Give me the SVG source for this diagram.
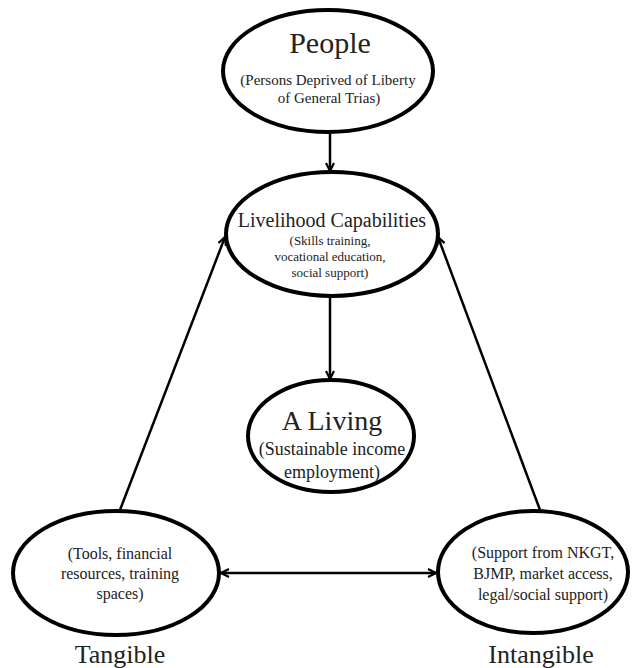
<svg xmlns="http://www.w3.org/2000/svg" width="633" height="668" viewBox="0 0 633 668">
<style>
.node ellipse{fill:#fff;stroke:#000;stroke-width:4}
text{font-family:"Liberation Serif","Times New Roman",serif;fill:#222;text-anchor:middle}
.conn line{stroke:#000;stroke-width:2.5;fill:none}
</style>
<defs>
<marker id="ah" viewBox="0 0 10 10" refX="9" refY="5" markerWidth="10" markerHeight="10" markerUnits="userSpaceOnUse" orient="auto-start-reverse">
<path d="M1,1 L9,5 L1,9" fill="none" stroke="#000" stroke-width="2.2"/>
</marker>
</defs>
<rect width="633" height="668" fill="#fff"/>
<g class="node" id="people">
<ellipse cx="328" cy="71" rx="105" ry="61"/>
<text x="330" y="53" font-size="30">People</text>
<text x="328" y="85" font-size="15">(Persons Deprived of Liberty</text>
<text x="329" y="103" font-size="15">of General Trias)</text>
</g>
<g class="node" id="livelihood">
<ellipse cx="332" cy="234" rx="106" ry="62"/>
<text x="332" y="227" font-size="20">Livelihood Capabilities</text>
<text x="330" y="245" font-size="13">(Skills training,</text>
<text x="330" y="261" font-size="13">vocational education,</text>
<text x="330" y="277" font-size="13">social support)</text>
</g>
<g class="node" id="living">
<ellipse cx="331" cy="436" rx="83" ry="56"/>
<text x="332" y="430" font-size="28">A Living</text>
<text x="332" y="455" font-size="18">(Sustainable income</text>
<text x="332" y="478" font-size="18">employment)</text>
</g>
<g class="node" id="tangible">
<ellipse cx="116" cy="573" rx="103" ry="62"/>
<text x="120" y="559" font-size="16">(Tools, financial</text>
<text x="120" y="579" font-size="16">resources, training</text>
<text x="120" y="599" font-size="16">spaces)</text>
<text x="120" y="663" font-size="26">Tangible</text>
</g>
<g class="node" id="intangible">
<ellipse cx="533" cy="572" rx="95" ry="61"/>
<text x="543" y="558" font-size="16">(Support from NKGT,</text>
<text x="543" y="579" font-size="16">BJMP, market access,</text>
<text x="543" y="600" font-size="16">legal/social support)</text>
<text x="541" y="663" font-size="26">Intangible</text>
</g>
<g class="conn" id="connectors">
<line x1="330" y1="133" x2="330" y2="171" marker-end="url(#ah)"/>
<line x1="330" y1="297" x2="330" y2="379" marker-end="url(#ah)"/>
<line x1="120" y1="510" x2="225" y2="237" marker-end="url(#ah)"/>
<line x1="540" y1="510" x2="438" y2="237" marker-end="url(#ah)"/>
<line x1="221" y1="573" x2="436" y2="573" marker-start="url(#ah)" marker-end="url(#ah)"/>
</g>
</svg>
